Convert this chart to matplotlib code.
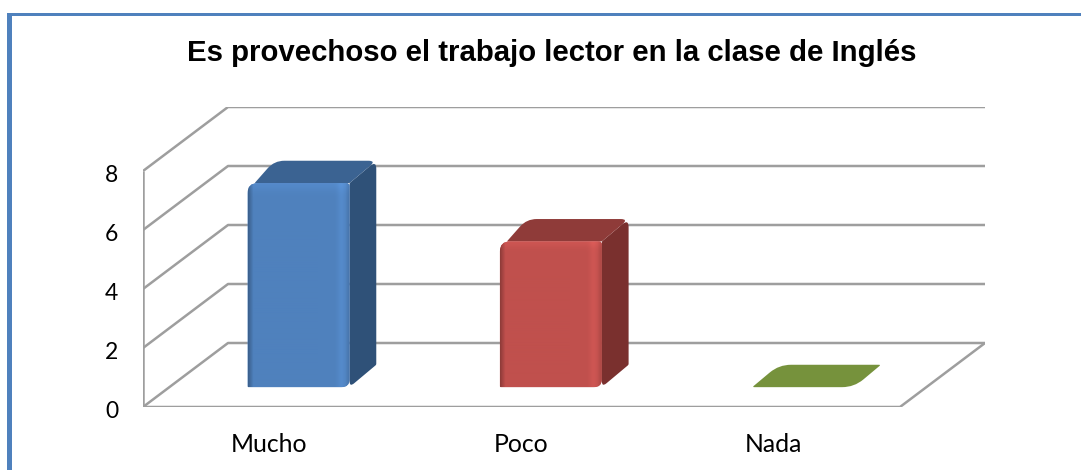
import numpy as np
import matplotlib
matplotlib.use("Agg")
import matplotlib.pyplot as plt
from matplotlib.path import Path
from matplotlib.patches import PathPatch, Rectangle
from matplotlib.transforms import ScaledTranslation

categories = ["Mucho", "Poco", "Nada"]
values = [7, 5, 0]
yticks = [0, 2, 4, 6, 8]
title = "Es provechoso el trabajo lector en la clase de Inglés"

front_colors = ["#4f81bd", "#c0504d", "#76923c"]
top_colors = ["#3b6392", "#8f3b39", "#76923c"]
side_colors = ["#2f5178", "#7a302e", "#5c7430"]

W, H = 1081, 470

# oblique depth: full depth of the floor, in data units
PX_X, PX_Y = 252.3, 29.5
DEPTH_X = 85 / PX_X
DEPTH_Y = 64 / PX_Y
BAR_W = 0.404
BAR_D0 = 0.31
BAR_D1 = 0.66
BAR_SHIFT = 0.012
BAR_SCALE = 0.988


def proj(x, y, d):
    return x + d * DEPTH_X, y + d * DEPTH_Y


def rounded(pts, radii):
    # closed polygon with rounded corners, radii in pixels
    pts = np.array(pts, float)
    px = pts * [PX_X, PX_Y]
    n = len(px)
    verts, codes = [], []
    for i in range(n):
        p, a, b = px[i], px[i - 1], px[(i + 1) % n]
        r = radii[i]
        u = (a - p) / np.linalg.norm(a - p)
        v = (b - p) / np.linalg.norm(b - p)
        start, end = p + u * r, p + v * r
        verts.append(start)
        codes.append(Path.MOVETO if i == 0 else Path.LINETO)
        verts += [p, end]
        codes += [Path.CURVE3, Path.CURVE3]
    verts.append(verts[0])
    codes.append(Path.CLOSEPOLY)
    return Path(np.array(verts) / [PX_X, PX_Y], codes)


def shade(hex_color):
    # horizontal and vertical bevel of the front face
    base = np.array(matplotlib.colors.to_rgb(hex_color))
    t = np.linspace(0, 1, 102)
    h = np.ones(102)
    h += -0.25 * np.clip(1 - t / 0.05, 0, 1)
    h += 0.07 * np.exp(-((t - 0.92) / 0.04) ** 2)
    h += -0.10 * np.clip((t - 0.96) / 0.04, 0, 1)
    s = np.linspace(0, 1, 200)
    v = 1 + 0.07 * np.exp(-(s / 0.04) ** 2)
    img = np.outer(v, h)[:, :, None] * base
    return np.clip(img, 0, 1)


fig = plt.figure(figsize=(W / 100, H / 100), dpi=100)
fig.patch.set_facecolor("white")

# blue frame on the top and left
fig.add_artist(Rectangle((7 / W, 0), 5 / W, 1 - 13 / H, transform=fig.transFigure, color="#4f81bd", lw=0))
fig.add_artist(Rectangle((7 / W, 1 - 16 / H), 1 - 7 / W, 3 / H, transform=fig.transFigure, color="#4f81bd", lw=0))

ax = fig.add_axes([143 / W, 1 - 407 / H, (985 - 143) / W, (407 - 107) / H])
for s in ax.spines.values():
    s.set_visible(False)
ax.patch.set_visible(False)

grid = dict(color="#9e9e9e", lw=1.8, solid_capstyle="butt", zorder=1)
n = len(categories)
for t in yticks:
    x0, y0 = proj(0, t, 0)
    x1, y1 = proj(0, t, 1)
    x2, y2 = proj(n, t, 1)
    ax.plot([x0, x1, x2], [y0, y1, y2], **grid)
ax.plot([0, 0], [0, yticks[-1]], **grid)
x3, y3 = proj(n, 0, 1)
ax.plot([0, n, x3], [0, 0, y3], **grid)

for i, val in enumerate(values):
    left = i + 0.5 - BAR_W / 2 + BAR_SHIFT
    right = left + BAR_W
    fl, fb = proj(left, 0, BAR_D0)
    fr, _ = proj(right, 0, BAR_D0)
    bl, bb = proj(left, 0, BAR_D1)
    br, _ = proj(right, 0, BAR_D1)
    bl -= 3 / PX_X
    br -= 3 / PX_X
    ft, bt = fb + val * BAR_SCALE, bb + val * BAR_SCALE

    if val == 0:
        ax.add_patch(PathPatch(rounded([(fl, fb), (fr, fb), (br, bb), (bl, bb)], [2, 12, 2, 12]),
                               fc=front_colors[i], ec="none", zorder=3))
        continue

    side = rounded([(fr, fb), (br, bb), (br, bt), (fr, ft)], [6, 1, 8, 1])
    ax.add_patch(PathPatch(side, fc=side_colors[i], ec="none", zorder=3))
    top = rounded([(fl + 7 / PX_X, ft), (fr, ft), (br, bt), (bl, bt)], [1, 1, 8, 10])
    ax.add_patch(PathPatch(top, fc=top_colors[i], ec="none", zorder=4))

    front = PathPatch(rounded([(fl, fb), (fr, fb), (fr, ft), (fl, ft)], [1, 8, 3, 10]),
                      fc=front_colors[i], ec="none", zorder=5)
    ax.add_patch(front)
    im = ax.imshow(shade(front_colors[i]), extent=(fl, fr, fb, ft), aspect="auto",
                   origin="upper", zorder=6, interpolation="bilinear")
    im.set_clip_path(front)

ax.set_xlim(0, n + DEPTH_X)
ax.set_ylim(0, yticks[-1] + DEPTH_Y)

ax.set_yticks(yticks)
ax.set_yticklabels([str(t) for t in yticks], fontsize=16.5, family="Lato", color="black")
ax.set_xticks(np.arange(n) + 0.5)
ax.set_xticklabels(categories, fontsize=17.8, family="Lato", color="black")
ax.tick_params(axis="y", length=0, pad=18)
ax.tick_params(axis="x", length=0, pad=18.5)
# tick digits sit a little high in this font
for lab in ax.get_yticklabels():
    lab.set_transform(lab.get_transform() + ScaledTranslation(0, -2 / 72, fig.dpi_scale_trans))

fig.text(551.5 / W, 1 - 53 / H, title, ha="center", va="center", fontsize=21.2,
         fontweight="bold", family="Liberation Sans", color="black")

fig.savefig("out.png", dpi=100)
